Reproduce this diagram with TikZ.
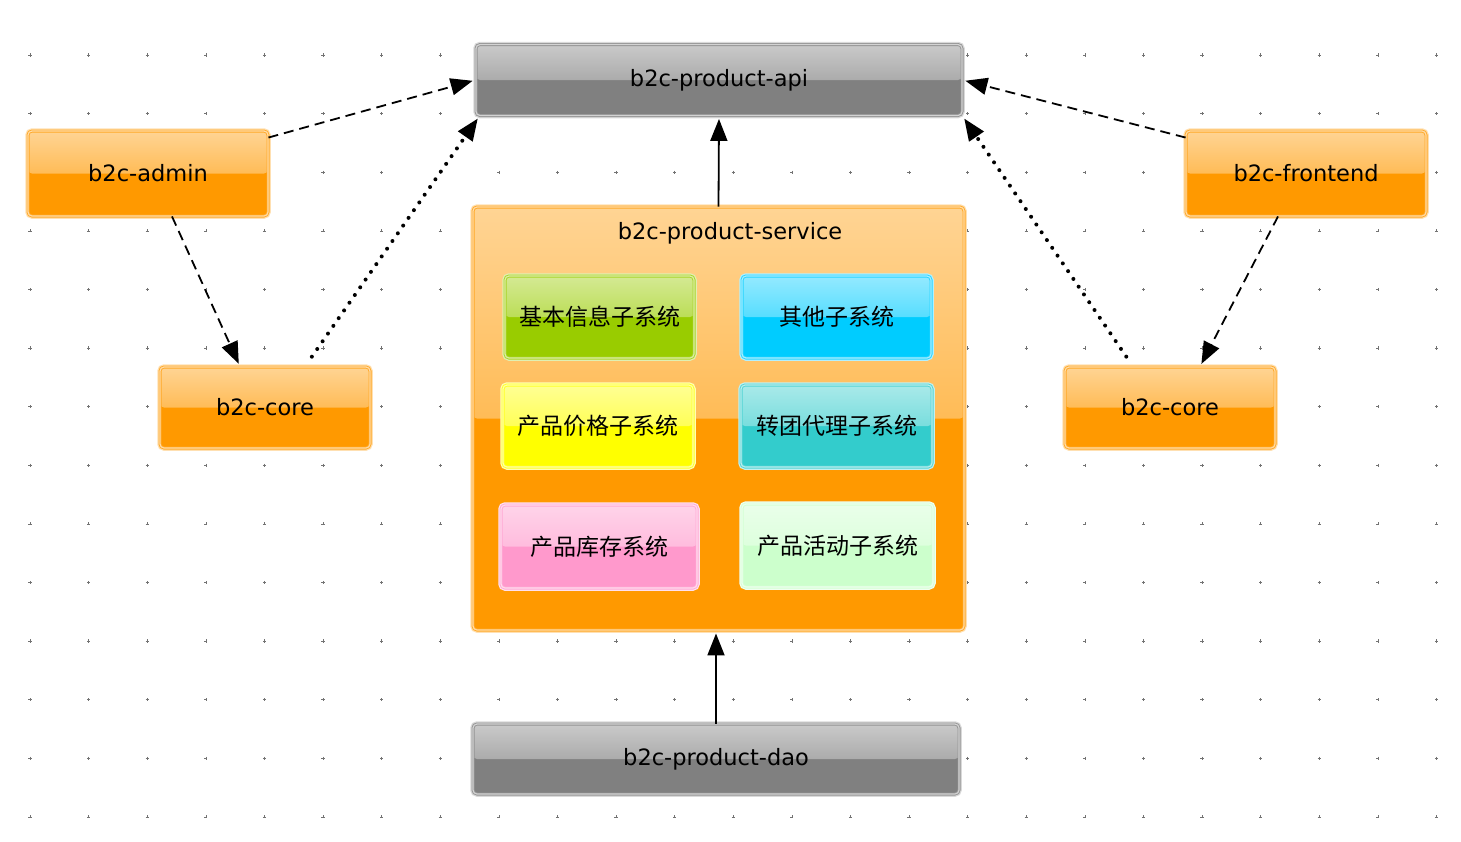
\documentclass[tikz,border=0pt]{standalone}
\usepackage{fontspec}
\setmainfont{DejaVu Sans}
\newfontfamily\cjk{Noto Sans CJK SC}
\usetikzlibrary{arrows.meta,calc}
\definecolor{boxgray}{HTML}{808080}
\definecolor{boxorange}{HTML}{FF9900}
\definecolor{boxgreen}{HTML}{99CC00}
\definecolor{boxcyan}{HTML}{00CCFF}
\definecolor{boxyellow}{HTML}{FFFF00}
\definecolor{boxteal}{HTML}{33CCCC}
\definecolor{boxpink}{HTML}{FF99CC}
\definecolor{boxmint}{HTML}{CCFFCC}
\newcommand{\zh}[1]{{\cjk\fontsize{23}{27}\selectfont #1}}
\tikzset{
	glossy/.style={rectangle, rounded corners=4pt, inner sep=0pt, fill=#1,
		draw=#1!85!white, double=#1!35!white, double distance=1.2pt, line width=0.9pt,
		preaction={draw=#1!30!white, line width=5.5pt},
		path picture={
			\begin{scope}
				\clip (path picture bounding box.north west) rectangle (path picture bounding box.east);
				\shade[top color=#1!30!white, bottom color=#1!78!white]
					($(path picture bounding box.north west)!-0.5!(path picture bounding box.west)$)
					rectangle ($(path picture bounding box.north east)!1.5!(path picture bounding box.east)$);
			\end{scope}},
		font=\fontsize{22.5}{27}\selectfont},
	gridmark/.style={draw=black!55, line width=0.6pt},
	head/.style={-{Triangle[length=22pt,width=17pt]}},
	dep/.style={head, line width=1.8pt, dash pattern=on 10pt off 6pt},
	link/.style={head, line width=1.8pt},
	use/.style={head, line width=4pt, dash pattern=on 0pt off 9.4pt, line cap=round}
}

\begin{document}
\begin{tikzpicture}[x=1pt,y=-1pt]
		\useasboundingbox (0,0) rectangle (1461,841);
		
		\foreach \i in {0,...,24}
			\foreach \j in {0,...,13}
				\draw[gridmark] ({30+58.6*\i},{55+58.6*\j}) +(-1.6,0) -- +(1.6,0) +(0,-1.6) -- +(0,1.6);
		
		\node[glossy=boxgray, minimum width=486pt, minimum height=71pt] (api) at (719,80) {b2c-product-api};
		\node[glossy=boxorange, minimum width=240pt, minimum height=85pt] (admin) at (148,173.5) {b2c-admin};
		\node[glossy=boxorange, minimum width=210pt, minimum height=81pt] (coreL) at (265,407.5) {b2c-core};
		\node[glossy=boxorange, minimum width=240pt, minimum height=85pt] (frontend) at (1306,173.5) {b2c-frontend};
		\node[glossy=boxorange, minimum width=210pt, minimum height=81pt] (coreR) at (1170,407.5) {b2c-core};
		\node[glossy=boxgray, minimum width=486pt, minimum height=70pt] (dao) at (716,759) {b2c-product-dao};
		
		\node[glossy=boxorange, minimum width=491pt, minimum height=423pt] (service) at (718.5,418.5) {};
		\node[font=\fontsize{22.5}{27}\selectfont] (svctitle) at (730,233) {b2c-product-service};
		
		\node[glossy=boxgreen, minimum width=189pt, minimum height=82pt] (basic) at (599.5,317) {\zh{基本信息子系统}};
		\node[glossy=boxcyan, minimum width=189pt, minimum height=82pt] (other) at (836.5,317) {\zh{其他子系统}};
		\node[glossy=boxyellow, minimum width=190pt, minimum height=82pt] (price) at (598,426) {\zh{产品价格子系统}};
		\node[glossy=boxteal, minimum width=191pt, minimum height=82pt] (agent) at (836.5,426) {\zh{转团代理子系统}};
		\node[glossy=boxpink, minimum width=196pt, minimum height=83pt] (stock) at (599,546.5) {\zh{产品库存系统}};
		\node[glossy=boxmint, minimum width=191pt, minimum height=83pt] (promo) at (837.5,545.5) {\zh{产品活动子系统}};
		
		\draw[dep, shorten >=3pt] ([yshift=-7pt]admin.north east) -- (api.west);
		\draw[dep, shorten >=3pt] ([xshift=24pt]admin.south) -- ([xshift=-25pt]coreL.north);
		\draw[use, shorten <=12pt, shorten >=3pt] ([xshift=40pt]coreL.north) -- ([xshift=4pt]api.south west);
		\draw[link, shorten >=3pt] (service.north) -- (api.south);
		\draw[dep, shorten >=3pt] ([yshift=-7pt]frontend.north west) -- (api.east);
		\draw[dep, shorten >=3pt] ([xshift=-28pt]frontend.south) -- ([xshift=30pt]coreR.north);
		\draw[use, shorten <=12pt, shorten >=3pt] ([xshift=-37pt]coreR.north) -- (api.south east);
		\draw[link, shorten >=3pt] (dao.north) -- (dao.north |- service.south);
\end{tikzpicture}
\end{document}
